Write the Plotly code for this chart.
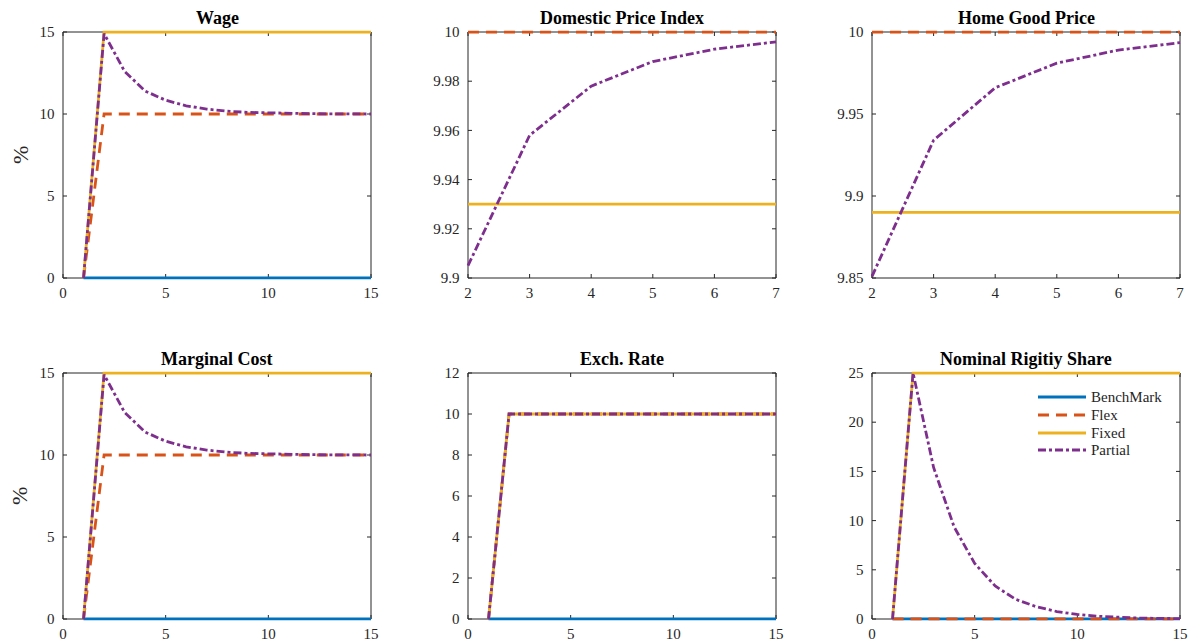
import plotly.graph_objects as go

# Horizon (periods) for the impulse responses
periods = [1, 2, 3, 4, 5, 6, 7, 8, 9, 10, 11, 12, 13, 14, 15]
price_periods = [2, 3, 4, 5, 6, 7]

series_names = ["BenchMark", "Flex", "Fixed", "Partial"]

# Wage (%)
wage_bench = [0, 0, 0, 0, 0, 0, 0, 0, 0, 0, 0, 0, 0, 0, 0]
wage_flex = [0, 10, 10, 10, 10, 10, 10, 10, 10, 10, 10, 10, 10, 10, 10]
wage_fixed = [0, 15, 15, 15, 15, 15, 15, 15, 15, 15, 15, 15, 15, 15, 15]
wage_partial = [0, 14.9, 12.6, 11.4, 10.84, 10.5, 10.3, 10.17, 10.1, 10.06, 10.04, 10.02, 10.01, 10.01, 10.0]

# Domestic price index
dpi_bench = [0, 0, 0, 0, 0, 0]
dpi_flex = [10, 10, 10, 10, 10, 10]
dpi_fixed = [9.93, 9.93, 9.93, 9.93, 9.93, 9.93]
dpi_partial = [9.905, 9.958, 9.978, 9.988, 9.993, 9.996]

# Home good price
hgp_bench = [0, 0, 0, 0, 0, 0]
hgp_flex = [10, 10, 10, 10, 10, 10]
hgp_fixed = [9.89, 9.89, 9.89, 9.89, 9.89, 9.89]
hgp_partial = [9.851, 9.934, 9.966, 9.981, 9.989, 9.9935]

# Marginal cost (%)
mc_bench = [0, 0, 0, 0, 0, 0, 0, 0, 0, 0, 0, 0, 0, 0, 0]
mc_flex = [0, 10, 10, 10, 10, 10, 10, 10, 10, 10, 10, 10, 10, 10, 10]
mc_fixed = [0, 15, 15, 15, 15, 15, 15, 15, 15, 15, 15, 15, 15, 15, 15]
mc_partial = [0, 14.9, 12.6, 11.4, 10.84, 10.5, 10.3, 10.17, 10.1, 10.06, 10.04, 10.02, 10.01, 10.01, 10.0]

# Exchange rate
er_bench = [0, 0, 0, 0, 0, 0, 0, 0, 0, 0, 0, 0, 0, 0, 0]
er_flex = [0, 10, 10, 10, 10, 10, 10, 10, 10, 10, 10, 10, 10, 10, 10]
er_fixed = [0, 10, 10, 10, 10, 10, 10, 10, 10, 10, 10, 10, 10, 10, 10]
er_partial = [0, 10, 10, 10, 10, 10, 10, 10, 10, 10, 10, 10, 10, 10, 10]

# Nominal rigidity share
nrs_bench = [0, 0, 0, 0, 0, 0, 0, 0, 0, 0, 0, 0, 0, 0, 0]
nrs_flex = [0, 0, 0, 0, 0, 0, 0, 0, 0, 0, 0, 0, 0, 0, 0]
nrs_fixed = [0, 25, 25, 25, 25, 25, 25, 25, 25, 25, 25, 25, 25, 25, 25]
nrs_partial = [0, 25, 15.4, 9.35, 5.65, 3.35, 2.0, 1.25, 0.76, 0.46, 0.28, 0.17, 0.1, 0.06, 0.04]

# Tick labels
main_ticks = [0, 5, 10, 15]
price_xticks = [2, 3, 4, 5, 6, 7]
wage_yticks = [0, 5, 10, 15]
dpi_yticks = [9.9, 9.92, 9.94, 9.96, 9.98, 10]
dpi_yticktext = ["9.9", "9.92", "9.94", "9.96", "9.98", "10"]
hgp_yticks = [9.85, 9.9, 9.95, 10]
hgp_yticktext = ["9.85", "9.9", "9.95", "10"]
er_yticks = [0, 2, 4, 6, 8, 10, 12]
nrs_yticks = [0, 5, 10, 15, 20, 25]

panels = [
    dict(title="Wage", x=periods, ys=[wage_bench, wage_flex, wage_fixed, wage_partial],
         xr=[0, 15], xt=main_ticks, yr=[0, 15], yt=wage_yticks, ytt=None, ylabel=True),
    dict(title="Domestic Price Index", x=price_periods, ys=[dpi_bench, dpi_flex, dpi_fixed, dpi_partial],
         xr=[2, 7], xt=price_xticks, yr=[9.9, 10], yt=dpi_yticks, ytt=dpi_yticktext, ylabel=False),
    dict(title="Home Good Price", x=price_periods, ys=[hgp_bench, hgp_flex, hgp_fixed, hgp_partial],
         xr=[2, 7], xt=price_xticks, yr=[9.85, 10], yt=hgp_yticks, ytt=hgp_yticktext, ylabel=False),
    dict(title="Marginal Cost", x=periods, ys=[mc_bench, mc_flex, mc_fixed, mc_partial],
         xr=[0, 15], xt=main_ticks, yr=[0, 15], yt=wage_yticks, ytt=None, ylabel=True),
    dict(title="Exch. Rate", x=periods, ys=[er_bench, er_flex, er_fixed, er_partial],
         xr=[0, 15], xt=main_ticks, yr=[0, 12], yt=er_yticks, ytt=None, ylabel=False),
    dict(title="Nominal Rigitiy Share", x=periods, ys=[nrs_bench, nrs_flex, nrs_fixed, nrs_partial],
         xr=[0, 15], xt=main_ticks, yr=[0, 25], yt=nrs_yticks, ytt=None, ylabel=False),
]

colors = ["#0072BD", "#D95319", "#EDB120", "#7E2F8E"]
dashes = ["solid", "11px,7px", "solid", "8px,3px,3px,3px"]
LW = 2.8

W, H = 1188, 643
col_px = [(63, 371), (468, 776), (872, 1180)]
row_px = [(32, 278), (373, 619)]
PAD_PX = 1.6  # extra room so lines lying on the frame are not cut in half

FONT = "'Liberation Serif', 'Times New Roman', Times, 'DejaVu Serif', serif"
AXCOL = "#262626"

fig = go.Figure()
layout = dict(
    width=W, height=H, margin=dict(l=0, r=0, t=0, b=0, autoexpand=False),
    paper_bgcolor="white", plot_bgcolor="white",
    font=dict(family=FONT, size=15, color=AXCOL),
    annotations=[], shapes=[], showlegend=False,
)


def padded(rng, span_px):
    d = (rng[1] - rng[0]) * PAD_PX / span_px
    return [rng[0] - d, rng[1] + d]


shapes = layout["shapes"]
for i, p in enumerate(panels):
    r, c = divmod(i, 3)
    n = i + 1
    xa = "x" if n == 1 else f"x{n}"
    ya = "y" if n == 1 else f"y{n}"
    x0, x1 = col_px[c]
    y0, y1 = row_px[r]
    # domains widened by the padding so the tick positions stay put
    dom_x = [(x0 - PAD_PX) / W, (x1 + PAD_PX) / W]
    dom_y = [1 - (y1 + PAD_PX) / H, 1 - (y0 - PAD_PX) / H]
    for k in range(4):
        fig.add_trace(go.Scatter(
            x=p["x"], y=p["ys"][k], mode="lines", name=series_names[k],
            line=dict(color=colors[k], width=LW, dash=dashes[k]),
            xaxis=xa, yaxis=ya, hoverinfo="skip",
        ))
    common = dict(showline=False, showgrid=False, zeroline=False,
                  ticks="", tickfont=dict(family=FONT, size=15, color=AXCOL))
    layout["xaxis" if n == 1 else f"xaxis{n}"] = dict(
        domain=dom_x, range=padded(p["xr"], x1 - x0), tickvals=p["xt"], anchor=ya,
        ticklabelstandoff=2, **common)
    yd = dict(domain=dom_y, range=padded(p["yr"], y1 - y0), tickvals=p["yt"], anchor=xa,
              ticklabelstandoff=6, **common)
    if p["ytt"] is not None:
        yd["ticktext"] = p["ytt"]
    layout["yaxis" if n == 1 else f"yaxis{n}"] = yd

    # axes box and inward tick marks on all four sides
    shapes.append(dict(type="rect", xref=xa, yref=ya, x0=p["xr"][0], x1=p["xr"][1],
                       y0=p["yr"][0], y1=p["yr"][1], line=dict(color=AXCOL, width=1),
                       layer="below"))
    tl_x = (p["xr"][1] - p["xr"][0]) * 4 / (x1 - x0)
    tl_y = (p["yr"][1] - p["yr"][0]) * 4 / (y1 - y0)
    for t in p["xt"]:
        for yb, sgn in ((p["yr"][0], 1), (p["yr"][1], -1)):
            shapes.append(dict(type="line", xref=xa, yref=ya, x0=t, x1=t, y0=yb,
                               y1=yb + sgn * tl_y, line=dict(color=AXCOL, width=1),
                               layer="below"))
    for t in p["yt"]:
        for xb, sgn in ((p["xr"][0], 1), (p["xr"][1], -1)):
            shapes.append(dict(type="line", xref=xa, yref=ya, y0=t, y1=t, x0=xb,
                               x1=xb + sgn * tl_x, line=dict(color=AXCOL, width=1),
                               layer="below"))

    layout["annotations"].append(dict(
        text=f"<b>{p['title']}</b>", x=(x0 + x1) / 2 / W, y=1 - y0 / H,
        xref="paper", yref="paper", xanchor="center", yanchor="bottom",
        yshift=2, showarrow=False, font=dict(family=FONT, size=18, color="black")))
    if p["ylabel"]:
        layout["annotations"].append(dict(
            text="%", x=20 / W, y=1 - (y0 + y1) / 2 / H, xref="paper", yref="paper",
            xanchor="center", yanchor="middle", textangle=-90, showarrow=False,
            font=dict(family=FONT, size=22, color=AXCOL)))

# Legend inside the last panel (line samples + labels, no frame)
leg_left, leg_right, leg_text = 1038, 1086, 1089
leg_rows = [397, 415, 433, 450]
for k, name in enumerate(series_names):
    yk = 1 - leg_rows[k] / H
    shapes.append(dict(type="line", xref="paper", yref="paper",
                       x0=leg_left / W, x1=leg_right / W, y0=yk, y1=yk,
                       line=dict(color=colors[k], width=LW, dash=dashes[k])))
    layout["annotations"].append(dict(
        text=name, x=leg_text / W, y=yk, xref="paper", yref="paper",
        xanchor="left", yanchor="middle", showarrow=False,
        font=dict(family=FONT, size=15, color=AXCOL)))

fig.update_layout(**layout)
fig.write_html("out.html")
